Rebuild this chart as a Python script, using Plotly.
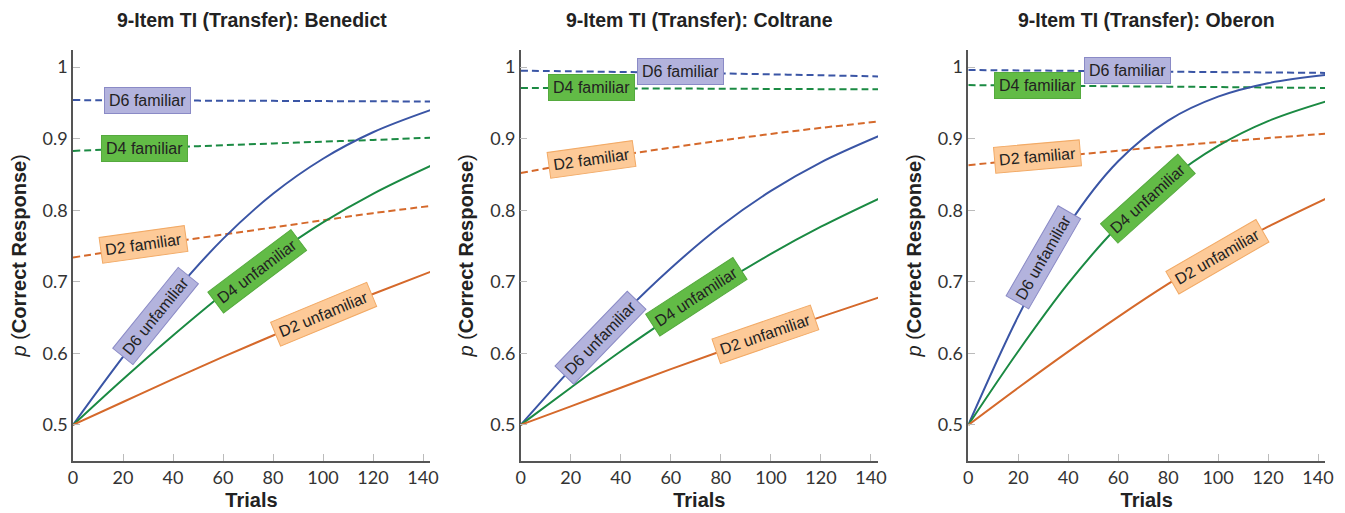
import plotly.graph_objects as go

# ---------------- data ----------------
trials = [0, 20, 40, 60, 80, 100, 120, 143]
subjects = ["Benedict", "Coltrane", "Oberon"]

# Benedict
ben_d6_unf = [0.500, 0.595, 0.683, 0.760, 0.823, 0.872, 0.909, 0.940]
ben_d4_unf = [0.500, 0.564, 0.625, 0.683, 0.736, 0.783, 0.823, 0.862]
ben_d2_unf = [0.500, 0.532, 0.564, 0.595, 0.625, 0.655, 0.683, 0.714]
ben_d6_fam = [0.954, 0.9537, 0.9534, 0.9531, 0.9529, 0.9526, 0.9523, 0.952]
ben_d4_fam = [0.883, 0.8857, 0.8883, 0.8909, 0.8934, 0.8959, 0.8983, 0.9015]
ben_d2_fam = [0.734, 0.745, 0.756, 0.766, 0.776, 0.786, 0.796, 0.806]

# Coltrane
col_d6_unf = [0.500, 0.578, 0.652, 0.719, 0.778, 0.827, 0.867, 0.9035]
col_d4_unf = [0.500, 0.552, 0.603, 0.651, 0.697, 0.739, 0.777, 0.816]
col_d2_unf = [0.500, 0.526, 0.552, 0.578, 0.603, 0.627, 0.651, 0.678]
col_d6_fam = [0.995, 0.9942, 0.9933, 0.9924, 0.9913, 0.9900, 0.9887, 0.987]
col_d4_fam = [0.971, 0.9707, 0.9704, 0.9702, 0.9699, 0.9696, 0.9693, 0.969]
col_d2_fam = [0.852, 0.865, 0.877, 0.8875, 0.8974, 0.9067, 0.9152, 0.924]

# Oberon
obe_d6_unf = [0.500, 0.652, 0.779, 0.8685, 0.9254, 0.9588, 0.9776, 0.989]
obe_d4_unf = [0.500, 0.603, 0.6977, 0.778, 0.8418, 0.890, 0.9247, 0.952]
obe_d2_unf = [0.500, 0.552, 0.6025, 0.651, 0.697, 0.739, 0.777, 0.816]
obe_d6_fam = [0.996, 0.9955, 0.9949, 0.9943, 0.9937, 0.9931, 0.9926, 0.992]
obe_d4_fam = [0.975, 0.9744, 0.9739, 0.9733, 0.9728, 0.9722, 0.9716, 0.971]
obe_d2_fam = [0.863, 0.870, 0.8767, 0.8832, 0.8894, 0.8953, 0.9009, 0.907]

series_names = ["D6 familiar", "D4 familiar", "D2 familiar",
                "D6 unfamiliar", "D4 unfamiliar", "D2 unfamiliar"]

panel_series = [
    [ben_d6_fam, ben_d4_fam, ben_d2_fam, ben_d6_unf, ben_d4_unf, ben_d2_unf],
    [col_d6_fam, col_d4_fam, col_d2_fam, col_d6_unf, col_d4_unf, col_d2_unf],
    [obe_d6_fam, obe_d4_fam, obe_d2_fam, obe_d6_unf, obe_d4_unf, obe_d2_unf],
]

# label anchor (trial, p) and text angle per panel, in series order
label_trials = [
    [29.6, 28.5, 28.0, 32.8, 73.6, 100.0],
    [63.7, 28.1, 28.1, 32.0, 70.4, 97.7],
    [63.9, 27.9, 27.9, 30.0, 71.9, 99.9],
]
label_p = [
    [0.954, 0.886, 0.752, 0.652, 0.714, 0.655],
    [0.994, 0.971, 0.871, 0.622, 0.679, 0.626],
    [0.995, 0.975, 0.875, 0.734, 0.817, 0.735],
]
label_angles = [
    [0, 0, -8, -51, -37, -22.5],
    [0, 0, -8, -46, -33, -19],
    [0, 0, -5, -60, -42, -30],
]

yticks = [0.5, 0.6, 0.7, 0.8, 0.9, 1.0]
xticks = [0, 20, 40, 60, 80, 100, 120, 140]

# ---------------- styles ----------------
line_colors = ["#3a55a5", "#1b8a43", "#d5692b"] * 2
dashes = ["7px,4px"] * 3 + ["solid"] * 3
box_fill = ["#b3b3dd", "#62bb46", "#fdca98"] * 2
box_border = ["#8a8ac6", "#55aa3e", "#f2aa66"] * 2

W, H = 1345, 513
x_domains = [(73 / W, 430 / W), (520.7 / W, 878 / W), (968.3 / W, 1325 / W)]
y_domain = (1 - 460.7 / H, 1 - 50 / H)
XMAX = 142.8
YRANGE = [0.45, 1.024]

fig = go.Figure()
annotations = []

for i, subj in enumerate(subjects):
    xa = "x" if i == 0 else f"x{i+1}"
    ya = "y" if i == 0 else f"y{i+1}"
    for k, name in enumerate(series_names):
        fig.add_trace(go.Scatter(
            x=trials, y=panel_series[i][k], mode="lines",
            line=dict(color=line_colors[k], width=2, dash=dashes[k], shape="spline"),
            name=name, showlegend=False, xaxis=xa, yaxis=ya,
        ))
    for k, name in enumerate(series_names):
        annotations.append(dict(
            x=label_trials[i][k], y=label_p[i][k], xref=xa, yref=ya,
            text=name, showarrow=False, textangle=label_angles[i][k],
            font=dict(family="Liberation Sans, Arial", size=16, color="#222"),
            bgcolor=box_fill[k], bordercolor=box_border[k], borderwidth=1,
            borderpad=4,
        ))
    # panel title
    annotations.append(dict(
        x=(x_domains[i][0] + x_domains[i][1]) / 2, y=1 - 20 / H,
        xref="paper", yref="paper", showarrow=False,
        text=f"<b>9-Item TI (Transfer): {subj}</b>",
        font=dict(family="Liberation Sans, Arial", size=19.5, color="#222"),
        xanchor="center", yanchor="middle",
    ))

    axis_common = dict(
        showline=True, linecolor="#555", linewidth=1.5, mirror=False,
        showgrid=False, zeroline=False, ticks="inside", ticklen=7,
        tickcolor="#bbb", tickwidth=1, automargin=False,
        tickfont=dict(family="Lato, Open Sans", size=18, color="#333"),
    )
    fig.layout[f"xaxis{'' if i == 0 else i+1}"] = dict(
        axis_common, domain=list(x_domains[i]), anchor=ya, range=[0, XMAX],
        tickvals=xticks,
        title=dict(text="<b>Trials</b>", standoff=6,
                   font=dict(family="Liberation Sans, Arial", size=20, color="#222")),
    )
    fig.layout[f"yaxis{'' if i == 0 else i+1}"] = dict(
        axis_common, domain=list(y_domain), anchor=xa, range=YRANGE,
        tickvals=yticks, ticktext=["0.5", "0.6", "0.7", "0.8", "0.9", "1"],
        title=dict(text="<i>p</i> (<b>Correct Response</b>)", standoff=11,
                   font=dict(family="Liberation Sans, Arial", size=20, color="#222")),
    )

fig.update_layout(
    width=W, height=H, autosize=False, margin=dict(l=0, r=0, t=0, b=0),
    plot_bgcolor="white", paper_bgcolor="white",
    annotations=annotations,
)

fig.write_html(
    "out.html",
    config={"displayModeBar": False, "responsive": False},
    post_script=(
        "document.body.style.margin='0';"
        "document.body.style.overflow='hidden';"
        "var gd=document.getElementById('{plot_id}');"
        "Plotly.relayout(gd,{width:1345,height:513});"
    ),
)
